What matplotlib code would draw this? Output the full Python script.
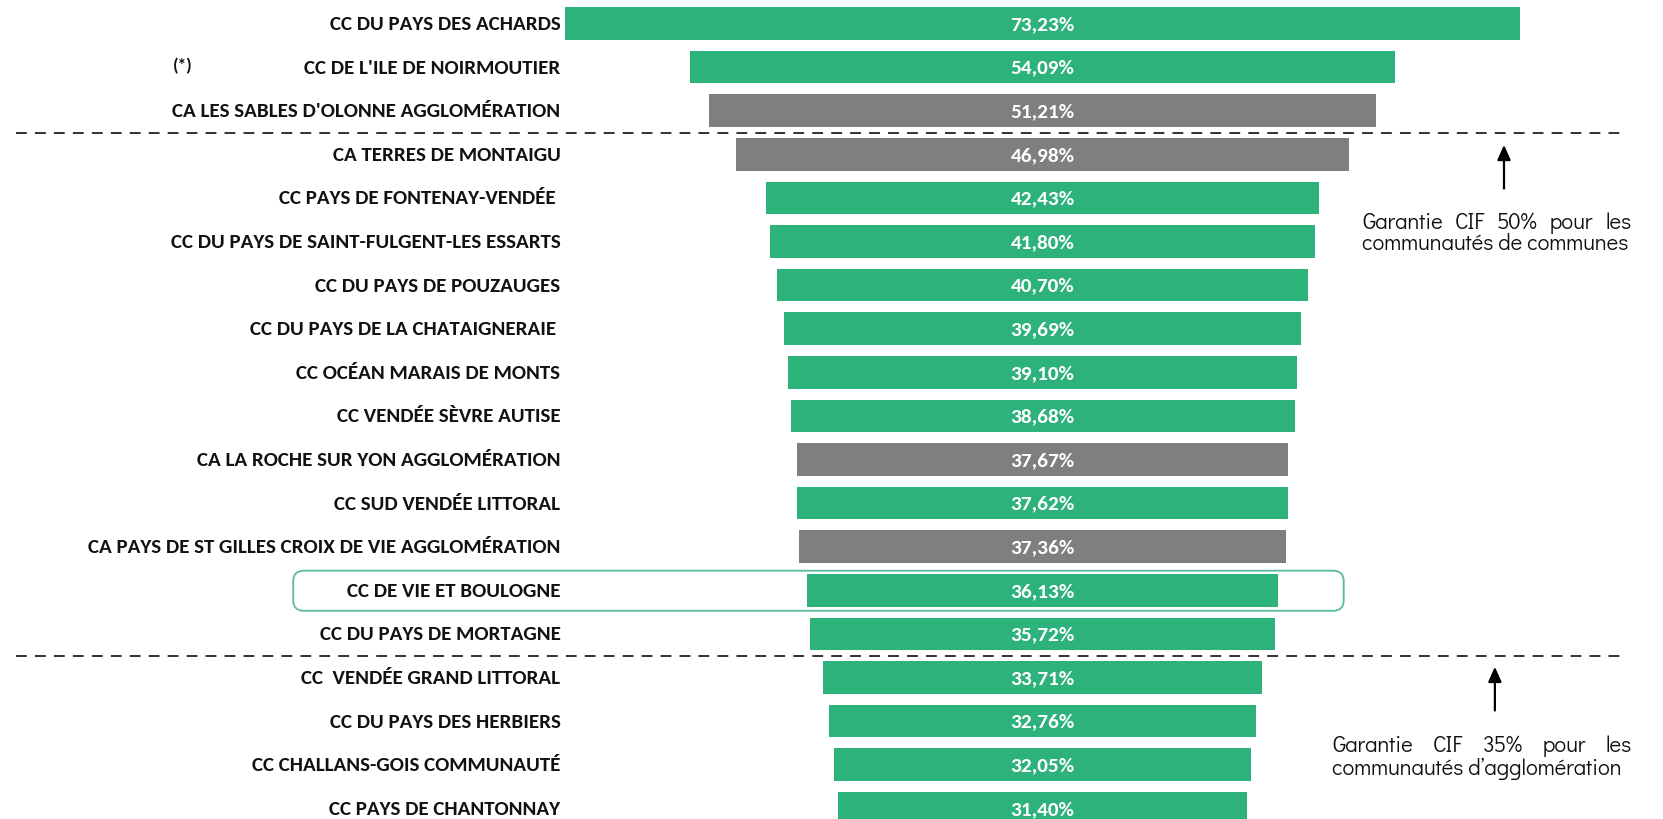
import matplotlib
matplotlib.use("Agg")
import matplotlib.pyplot as plt
from matplotlib.patches import FancyBboxPatch

# ---------------- data ----------------
labels = [
    "CC DU PAYS DES ACHARDS",
    "CC DE L'ILE DE NOIRMOUTIER",
    "CA LES SABLES D'OLONNE AGGLOMÉRATION",
    "CA TERRES DE MONTAIGU",
    "CC PAYS DE FONTENAY-VENDÉE ",
    "CC DU PAYS DE SAINT-FULGENT-LES ESSARTS",
    "CC DU PAYS DE POUZAUGES",
    "CC DU PAYS DE LA CHATAIGNERAIE ",
    "CC OCÉAN MARAIS DE MONTS",
    "CC VENDÉE SÈVRE AUTISE",
    "CA LA ROCHE SUR YON AGGLOMÉRATION",
    "CC SUD VENDÉE LITTORAL",
    "CA PAYS DE ST GILLES CROIX DE VIE AGGLOMÉRATION",
    "CC DE VIE ET BOULOGNE",
    "CC DU PAYS DE MORTAGNE",
    "CC  VENDÉE GRAND LITTORAL",
    "CC DU PAYS DES HERBIERS",
    "CC CHALLANS-GOIS COMMUNAUTÉ",
    "CC PAYS DE CHANTONNAY",
]
values = [73.23, 54.09, 51.21, 46.98, 42.43, 41.80, 40.70, 39.69, 39.10, 38.68,
          37.67, 37.62, 37.36, 36.13, 35.72, 33.71, 32.76, 32.05, 31.40]
kinds = ["CC", "CC", "CA", "CA", "CC", "CC", "CC", "CC", "CC", "CC",
         "CA", "CC", "CA", "CC", "CC", "CC", "CC", "CC", "CC"]
thresholds_after = [2, 14]      # dashed separators after these rows
highlight_row = 13
note_50 = (["Garantie", "CIF", "50%", "pour", "les"], "communautés de communes")
note_35 = (["Garantie", "CIF", "35%", "pour", "les"], "communautés d’agglomération")

GREEN = "#2EB27B"
GREY = "#7F7F7F"
colors = [GREEN if k == "CC" else GREY for k in kinds]

fig = plt.figure(figsize=(16.63, 8.20), dpi=100)
ax = fig.add_axes([0, 0, 1, 1])
ax.axis("off")
ax.set_xlim(-80.0, 47.6)
ax.set_ylim(18.245, -0.562)

fig.canvas.draw()
renderer = fig.canvas.get_renderer()
px_per_unit = ax.transData.transform((1, 0))[0] - ax.transData.transform((0, 0))[0]

LAB_FAMILY = ["Carlito", "Fira Sans Condensed", "Liberation Sans Narrow", "DejaVu Sans"]
NOTE_FAMILY = ["Didact Gothic", "Questrial", "Poppins", "DejaVu Sans"]


def fit_size(text, family, weight, target_px, ref=10.0):
    t = fig.text(0, 0, text, family=family, fontweight=weight, fontsize=ref)
    w = t.get_window_extent(renderer).width
    t.remove()
    return ref * target_px / w


lab_size = fit_size(labels[0], LAB_FAMILY, "bold", 230)
val_size = fit_size("73,23%", LAB_FAMILY, "bold", 64)
lab_font = dict(family=LAB_FAMILY, fontweight="bold")

n = len(values)
ys = list(range(n))
ax.barh(ys, values, left=[-v / 2 for v in values], height=0.75,
        color=colors, edgecolor="none", zorder=2)

for y, v, lab in zip(ys, values, labels):
    ax.text(0, y, f"{v:.2f}%".replace(".", ","), ha="center", va="center",
            color="white", fontsize=val_size, zorder=3, **lab_font)
    ax.text(-37.0, y, lab, ha="right", va="center", color="#111111",
            fontsize=lab_size, zorder=3, **lab_font)

ax.text(-66.0, 0.95, "(*)", ha="center", va="center", fontsize=lab_size * 0.85,
        color="#111111", **lab_font)

# dashed thresholds
for t in thresholds_after:
    ax.plot([-78.8, 44.7], [t + 0.5, t + 0.5], color="#222222", lw=1.3,
            ls=(0, (6, 4.5)), zorder=1)

# highlight box
box = FancyBboxPatch((-57.5, highlight_row - 0.45), 80.6, 0.92,
                     boxstyle="round,pad=0,rounding_size=0.8",
                     mutation_aspect=0.3,
                     fc="none", ec="#5BB9A0", lw=1.3, zorder=4)
ax.add_patch(box)

# arrows
ax.annotate("", xy=(35.4, 2.72), xytext=(35.4, 3.85),
            arrowprops=dict(arrowstyle="-|>,head_length=0.9,head_width=0.4",
                            color="black", lw=1.6))
ax.annotate("", xy=(34.7, 14.69), xytext=(34.7, 15.82),
            arrowprops=dict(arrowstyle="-|>,head_length=0.9,head_width=0.4",
                            color="black", lw=1.6))

note_size = fit_size(note_50[1], NOTE_FAMILY, "normal", 268)
note_font = dict(family=NOTE_FAMILY, fontsize=note_size, color="#111111")


def justified(words, x0, x1, y):
    ts = [ax.text(0, y, w, ha="left", va="center", **note_font) for w in words]
    widths = [t.get_window_extent(renderer).width / px_per_unit for t in ts]
    gap = (x1 - x0 - sum(widths)) / (len(words) - 1)
    x = x0
    for t, w in zip(ts, widths):
        t.set_x(x)
        x += w + gap


justified(note_50[0], 24.5, 45.2, 4.55)
ax.text(24.5, 5.05, note_50[1], ha="left", va="center", **note_font)
justified(note_35[0], 22.2, 45.2, 16.55)
ax.text(22.2, 17.07, note_35[1], ha="left", va="center", **note_font)

fig.savefig("out.png", dpi=100, facecolor="white")
